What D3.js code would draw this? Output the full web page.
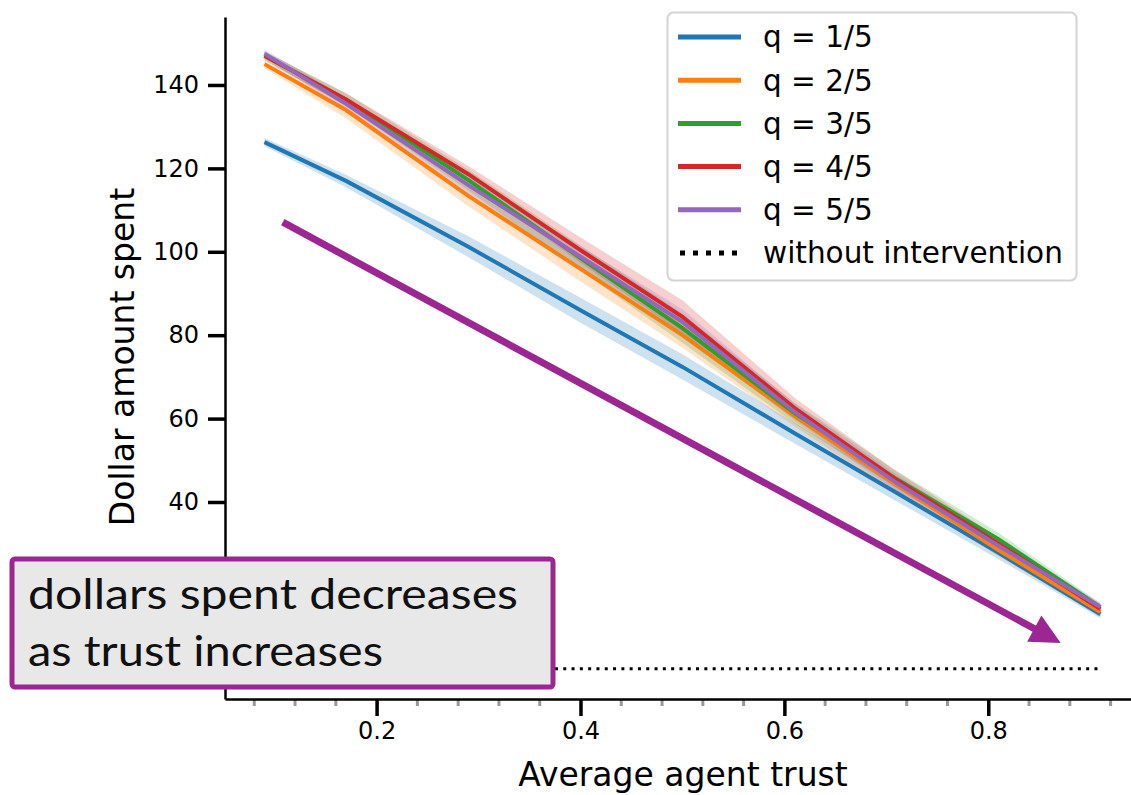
<!DOCTYPE html>
<html>
<head>
<meta charset="utf-8">
<script src="https://cdn.jsdelivr.net/npm/d3@7"></script>
<style>
  body { margin: 0; background: #fff; }
  svg { font-family: "DejaVu Sans", sans-serif; }
</style>
</head>
<body>
<div id="chart"></div>
<script>
// data
var trust = [0.09, 0.17, 0.29, 0.40, 0.50, 0.61, 0.71, 0.81, 0.91];
var seriesNames = ["q = 1/5", "q = 2/5", "q = 3/5", "q = 4/5", "q = 5/5"];
var q1 = [126.3, 117.0, 101.2, 86.0, 72.4, 56.5, 42.2, 27.8, 13.1];
var q2 = [145.0, 134.0, 113.4, 95.9, 80.0, 60.6, 44.1, 28.5, 13.6];
var q3 = [147.0, 136.5, 117.2, 98.5, 81.7, 61.3, 45.5, 31.1, 14.8];
var q4 = [147.0, 136.5, 118.6, 100.4, 84.4, 62.5, 45.3, 30.0, 14.3];
var q5 = [147.5, 135.5, 116.0, 98.8, 83.2, 61.6, 44.6, 29.5, 14.8];
// half width of the shaded band
var ci1 = [1.0, 1.5, 2.5, 3.0, 3.0, 2.5, 2.0, 1.5, 1.0];
var ci2 = [1.0, 2.0, 2.5, 3.0, 3.0, 2.5, 2.0, 1.5, 1.0];
var ci3 = [1.0, 1.5, 2.5, 3.0, 3.5, 2.5, 2.0, 1.5, 1.0];
var ci4 = [1.0, 1.5, 2.0, 3.0, 4.0, 2.5, 2.0, 1.5, 1.0];
var ci5 = [1.0, 1.5, 2.0, 2.5, 3.0, 2.0, 2.0, 1.5, 1.0];
var baseline = 0;          // without intervention
var xTicks = [0.2, 0.4, 0.6, 0.8];
var yTicks = [40, 60, 80, 100, 120, 140];   // 0 and 20 sit under the note box
var arrowFrom = [0.108, 107.1];
var arrowTo = [0.871, 6.2];
var noteLines = ["dollars spent decreases", "as trust increases"];

var colors = ["#1f77b4", "#ff7f0e", "#2ca02c", "#d62728", "#9467bd"];
var values = [q1, q2, q3, q4, q5];
var cis = [ci1, ci2, ci3, ci4, ci5];

var svgWidth = 1131;
var svgHeight = 795;
var margin = {top: 17, right: 0, bottom: 96, left: 225};
var chartWidth = svgWidth - margin.left - margin.right;
var chartHeight = svgHeight - margin.top - margin.bottom;

var svg = d3.select("#chart")
  .append("svg")
  .attr("width", svgWidth)
  .attr("height", svgHeight);

var g = svg.append("g")
  .attr("transform", `translate(${margin.left},${margin.top})`);

var x = d3.scaleLinear().domain([0.0513, 0.94]).range([0, chartWidth]);
var y = d3.scaleLinear().domain([-7.24, 156.3]).range([chartHeight, 0]);

// bands
var area = d3.area()
  .x(function(d) { return x(d.x); })
  .y0(function(d) { return y(d.v - d.c); })
  .y1(function(d) { return y(d.v + d.c); });

var line = d3.line()
  .x(function(d) { return x(d.x); })
  .y(function(d) { return y(d.v); });

var series = values.map(function(vals, i) {
  return trust.map(function(t, j) {
    return {x: t, v: vals[j], c: cis[i][j]};
  });
});

series.forEach(function(s, i) {
  g.append("path")
    .datum(s)
    .attr("d", area)
    .attr("fill", colors[i])
    .attr("fill-opacity", 0.22);
});

series.forEach(function(s, i) {
  g.append("path")
    .datum(s)
    .attr("d", line)
    .attr("fill", "none")
    .attr("stroke", colors[i])
    .attr("stroke-width", 4);
});

// without intervention
g.append("line")
  .attr("x1", x(trust[0]))
  .attr("x2", x(trust[trust.length - 1]))
  .attr("y1", y(baseline))
  .attr("y2", y(baseline))
  .attr("stroke", "#000")
  .attr("stroke-width", 3)
  .attr("stroke-dasharray", "3,5.3");

// minor ticks
var minor = d3.range(0.08, 0.93, 0.04).filter(function(t) {
  return xTicks.every(function(m) { return Math.abs(m - t) > 0.001; });
});
g.selectAll(".minor")
  .data(minor)
  .enter()
  .append("line")
  .attr("x1", function(d) { return x(d); })
  .attr("x2", function(d) { return x(d); })
  .attr("y1", chartHeight)
  .attr("y2", chartHeight + 7)
  .attr("stroke", "#999")
  .attr("stroke-width", 3);

// axes
var bottomAxis = d3.axisBottom(x).tickValues(xTicks).tickSize(17).tickSizeOuter(0).tickPadding(6)
  .tickFormat(d3.format(".1f"));
var leftAxis = d3.axisLeft(y).tickValues(yTicks).tickSize(17).tickSizeOuter(0).tickPadding(9);

var xg = g.append("g").attr("transform", `translate(0, ${chartHeight})`).call(bottomAxis);
var yg = g.append("g").call(leftAxis);

[xg, yg].forEach(function(ax) {
  ax.attr("font-family", null).attr("font-size", null);
  ax.select(".domain").attr("stroke-width", 2.5);
  ax.selectAll(".tick line").attr("stroke-width", 3.5);
  ax.selectAll(".tick text").style("font-size", "24px").attr("fill", "#000");
});

g.append("text")
  .attr("transform", "rotate(-90)")
  .attr("x", -(357 - margin.top))
  .attr("y", 122 - margin.left)
  .attr("dy", "0.35em")
  .style("text-anchor", "middle")
  .style("font-size", "33px")
  .text("Dollar amount spent");

g.append("text")
  .attr("x", 683 - margin.left)
  .attr("y", 786 - margin.top)
  .style("text-anchor", "middle")
  .style("font-size", "33px")
  .text("Average agent trust");

// legend
var legend = svg.append("g").attr("transform", "translate(667,12)");
legend.append("rect")
  .attr("x", 0.5).attr("y", 0.5)
  .attr("width", 409).attr("height", 268)
  .attr("rx", 6)
  .attr("fill", "#fff")
  .attr("fill-opacity", 0.85)
  .attr("stroke", "#d4d4d4")
  .attr("stroke-width", 2);

var legendItems = seriesNames.concat(["without intervention"]);
legendItems.forEach(function(name, i) {
  var ly = 25 + i * 43.2;
  var item = legend.append("g");
  var h = item.append("line")
    .attr("x1", 11).attr("x2", 74)
    .attr("y1", ly).attr("y2", ly)
    .attr("stroke-width", 5);
  if (i < colors.length) {
    h.attr("stroke", colors[i]);
  } else {
    h.attr("stroke", "#000").attr("stroke-dasharray", "5,8").attr("x1", 13);
  }
  item.append("text")
    .attr("x", 96)
    .attr("y", ly)
    .attr("dy", "0.35em")
    .style("font-size", "29.5px")
    .text(name);
});

// annotation arrow
var ax0 = x(arrowFrom[0]) + margin.left, ay0 = y(arrowFrom[1]) + margin.top;
var ax1 = x(arrowTo[0]) + margin.left, ay1 = y(arrowTo[1]) + margin.top;
var ang = Math.atan2(ay1 - ay0, ax1 - ax0);
var headLen = 30, headHalf = 15;
var bx = ax1 - headLen * Math.cos(ang), by = ay1 - headLen * Math.sin(ang);
var purple = "#9c2793";
svg.append("line")
  .attr("x1", ax0).attr("y1", ay0)
  .attr("x2", bx + 2 * Math.cos(ang)).attr("y2", by + 2 * Math.sin(ang))
  .attr("stroke", purple)
  .attr("stroke-width", 7);
svg.append("path")
  .attr("d", "M" + ax1 + "," + ay1 +
    "L" + (bx - headHalf * Math.sin(ang)) + "," + (by + headHalf * Math.cos(ang)) +
    "L" + (bx + headHalf * Math.sin(ang)) + "," + (by - headHalf * Math.cos(ang)) + "Z")
  .attr("fill", purple);

// annotation box
var noteWidths = [490, 355];
var note = svg.append("g");
note.append("rect")
  .attr("x", 12).attr("y", 559)
  .attr("width", 541).attr("height", 128)
  .attr("rx", 3)
  .attr("fill", "#e8e8e8")
  .attr("stroke", purple)
  .attr("stroke-width", 5);
noteLines.forEach(function(t, i) {
  note.append("text")
    .attr("x", 28)
    .attr("y", 609 + i * 57)
    .attr("textLength", noteWidths[i])
    .attr("lengthAdjust", "spacingAndGlyphs")
    .style("font-family", "Lato, sans-serif")
    .style("font-size", "42px")
    .attr("fill", "#111")
    .text(t);
});
</script>
</body>
</html>
